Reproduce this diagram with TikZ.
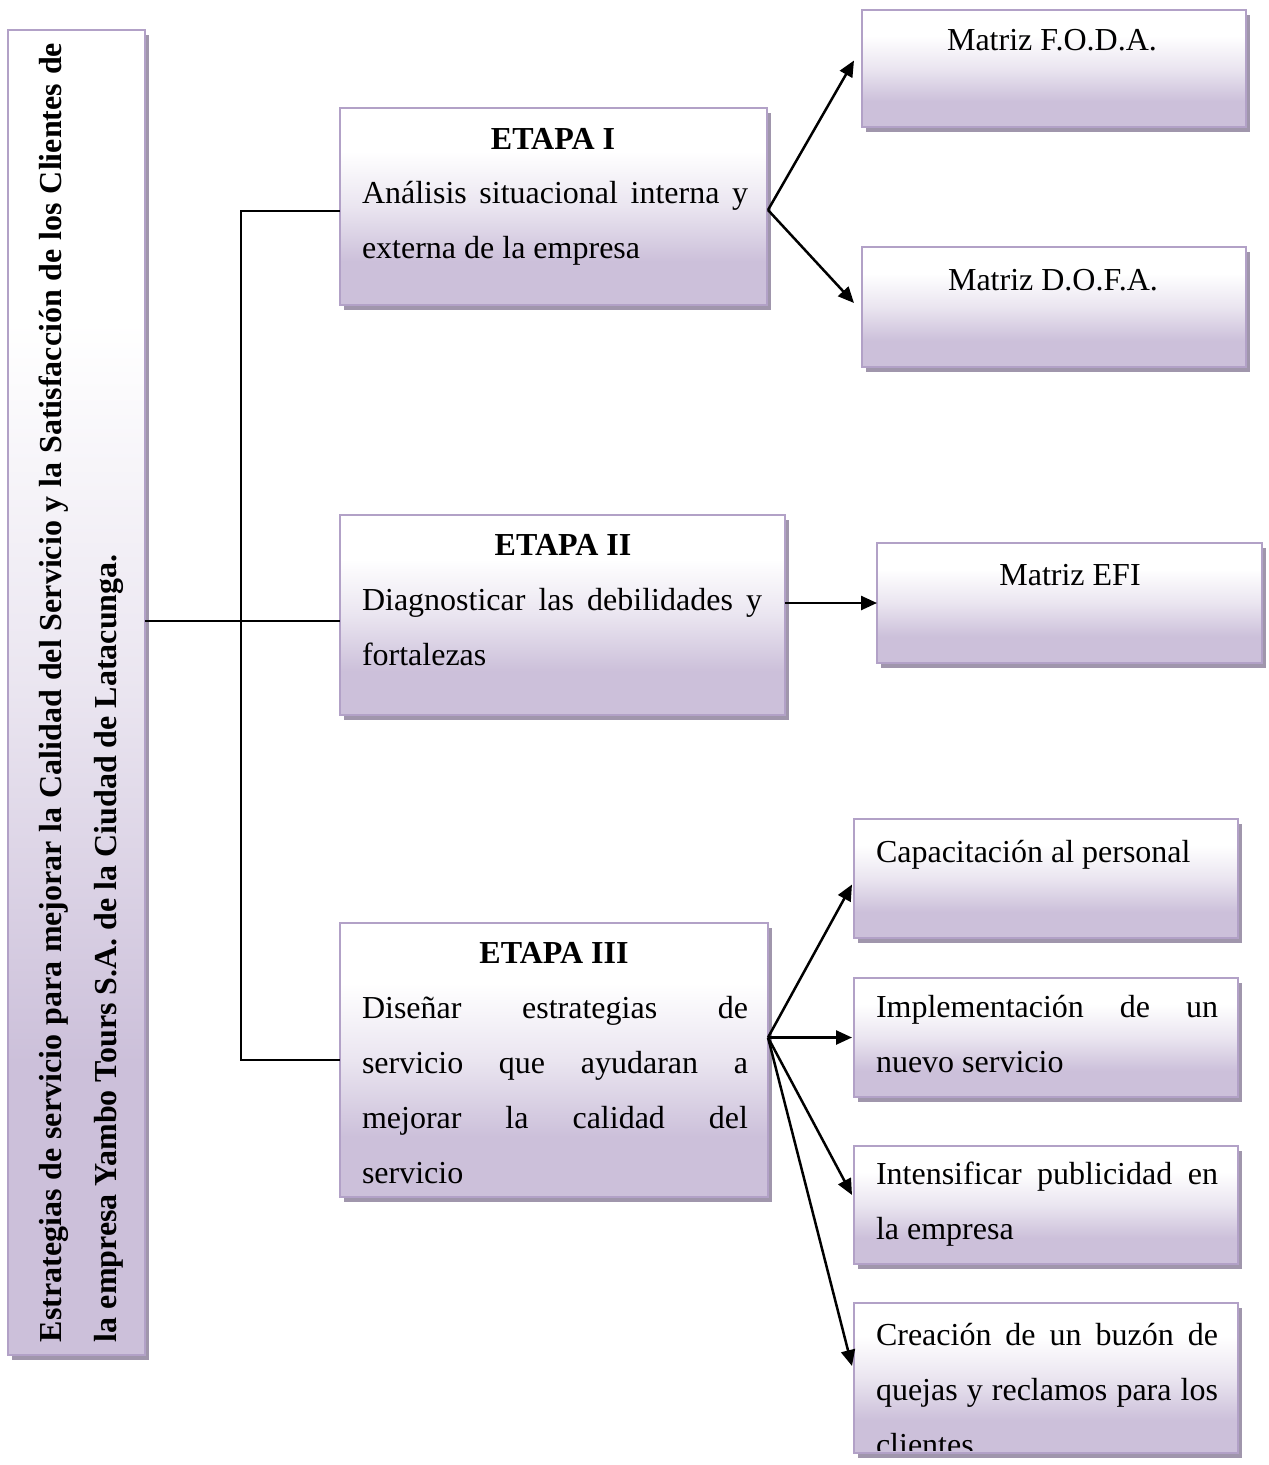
\documentclass[tikz,border=0pt]{standalone}
\usepackage{fontspec}
\setmainfont{Liberation Serif}
\usetikzlibrary{arrows.meta,shadows,calc}

\definecolor{lavEdge}{RGB}{178,161,199}
\definecolor{lavDeep}{RGB}{204,192,218}
\definecolor{lavMid}{RGB}{234,229,240}
\definecolor{boxShadow}{RGB}{160,150,172}

% white at the top fading to lavender at the bottom
\pgfdeclareverticalshading{panelfade}{100bp}{color(0bp)=(lavDeep); color(36bp)=(lavDeep); color(50bp)=(lavMid); color(64bp)=(white); color(100bp)=(white)}

\tikzset{
  panel/.style={draw=lavEdge, line width=2.7pt, shade, shading=panelfade,
    inner sep=0pt, outer sep=0pt, anchor=north west,
    general shadow={fill=boxShadow, shadow xshift=4pt, shadow yshift=-5pt}},
  body/.style={inner sep=0pt, outer sep=0pt, anchor=base west,
    font=\fontsize{32}{55}\selectfont},
  head/.style={inner sep=0pt, outer sep=0pt, anchor=base,
    font=\fontsize{32}{55}\selectfont\bfseries},
  link/.style={line width=2.5pt, black},
  arr/.style={link, -{Triangle[length=16pt,width=14pt]}},
}

\begin{document}
\begin{tikzpicture}[x=1pt, y=-1pt]
\useasboundingbox (0,0) rectangle (1269,1465);

% ---- boxes ----
\node[panel, minimum width=137pt, minimum height=1325pt] (main) at (8,30) {};
\node[panel, minimum width=427pt, minimum height=197pt]  (e1)   at (340,108) {};
\node[panel, minimum width=384pt, minimum height=117pt]  (foda) at (862,10) {};
\node[panel, minimum width=384pt, minimum height=120pt]  (dofa) at (862,247) {};
\node[panel, minimum width=445pt, minimum height=200pt]  (e2)   at (340,515) {};
\node[panel, minimum width=385pt, minimum height=120pt]  (efi)  at (877,543) {};
\node[panel, minimum width=428pt, minimum height=274pt]  (e3)   at (340,923) {};
\node[panel, minimum width=384pt, minimum height=119pt]  (cap)  at (854,819) {};
\node[panel, minimum width=384pt, minimum height=119pt]  (impl) at (854,978) {};
\node[panel, minimum width=384pt, minimum height=118pt]  (intf) at (854,1146) {};
\node[panel, minimum width=384pt, minimum height=150pt]  (crea) at (854,1303) {};

% ---- title along the left panel ----
\node[body, rotate=90, font=\fontsize{32}{55}\selectfont\bfseries] (title) at (61,1342)
  {\parbox[t]{1299pt}{\makebox[1299pt][s]{Estrategias de servicio para mejorar la Calidad del Servicio y la Satisfacción de los Clientes de}\\la empresa Yambo Tours S.A. de la Ciudad de Latacunga.}};

% ---- stage texts ----
\node[head] (e1h) at (553,149) {ETAPA I};
\node[body] (e1t) at (362,203)
  {\parbox[t]{386pt}{\makebox[386pt][s]{Análisis situacional interna y}\\externa de la empresa}};

\node[head] (e2h) at (563,555) {ETAPA II};
\node[body] (e2t) at (362,610)
  {\parbox[t]{400pt}{\makebox[400pt][s]{Diagnosticar las debilidades y}\\fortalezas}};

\node[head] (e3h) at (554,963) {ETAPA III};
\node[body] (e3t) at (362,1018)
  {\parbox[t]{386pt}{\makebox[386pt][s]{Diseñar estrategias de}\\\makebox[386pt][s]{servicio que ayudaran a}\\\makebox[386pt][s]{mejorar la calidad del}\\servicio}};

% ---- outcome texts ----
\node[body, anchor=base] (fodat) at (1052,50)  {Matriz F.O.D.A.};
\node[body, anchor=base] (dofat) at (1053,290) {Matriz D.O.F.A.};
\node[body, anchor=base] (efit)  at (1070,585) {Matriz EFI};
\node[body] (capt) at (876,862) {Capacitación al personal};
\node[body] (implt) at (876,1017)
  {\parbox[t]{342pt}{\makebox[342pt][s]{Implementación de un}\\nuevo servicio}};
\node[body] (intft) at (876,1184)
  {\parbox[t]{342pt}{\makebox[342pt][s]{Intensificar publicidad en}\\la empresa}};
\begin{scope}
  \clip ($(crea.north west)+(1.5,1.5)$) rectangle ($(crea.south east)+(-1.5,-3)$);
  \node[body] (creat) at (876,1345)
    {\parbox[t]{342pt}{\makebox[342pt][s]{Creación de un buzón de}\\\makebox[342pt][s]{quejas y reclamos para los}\\clientes}};
\end{scope}

% ---- connectors ----
\coordinate (trunkTop) at (241,211);
\coordinate (trunkMid) at (241,621);
\coordinate (trunkLow) at (241,1060);
\draw[link] (main.east |- trunkMid) -- (e2.west |- trunkMid);
\draw[link] (e1.west |- trunkTop) -- (trunkTop) -- (trunkLow) -- (e3.west |- trunkLow);

\coordinate (e1out) at (768,210);
\draw[arr] (e1out) -- ($(foda.west)+(-8,-8)$);
\draw[arr] (e1out) -- ($(dofa.west)+(-8,-4)$);

\draw[arr] (e2.east |- efi.west) -- (efi.west);

\coordinate (e3out) at (e3.east |- impl.west);
\draw[arr] (e3out) -- ($(cap.west)+(-2,6)$);
\draw[arr] (e3out) -- ($(impl.west)+(-2,0)$);
\draw[arr] (e3out) -- ($(intf.west)+(-2,-10)$);
\draw[arr] (e3out) -- ($(crea.west)+(-2,-12)$);
\end{tikzpicture}
\end{document}
